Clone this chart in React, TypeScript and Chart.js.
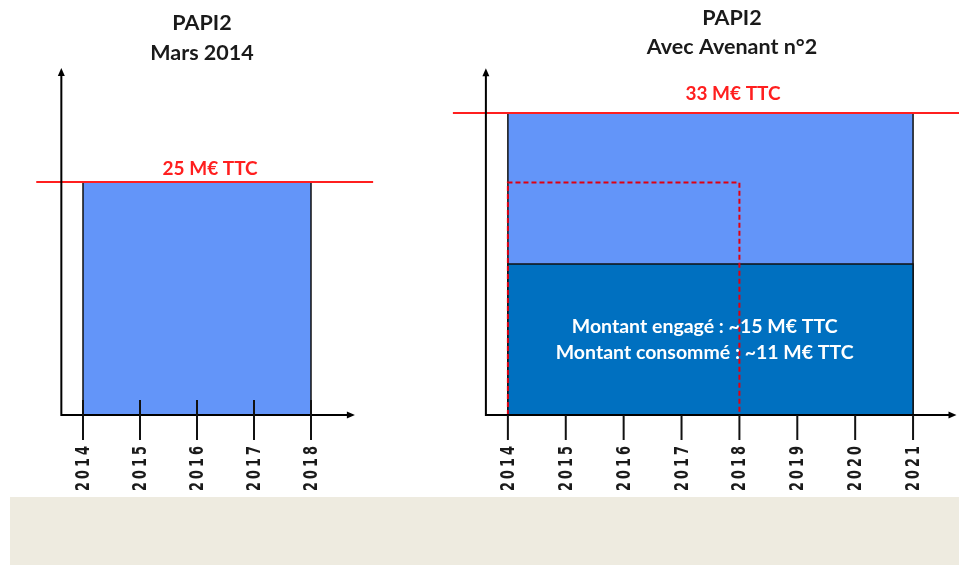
import React, { useEffect, useRef } from 'react';
import { Chart, registerables } from 'chart.js';

Chart.register(...registerables);

// ---------- data ----------
const LEFT_TITLE = ['PAPI2', 'Mars 2014'];
const RIGHT_TITLE = ['PAPI2', 'Avec Avenant n°2'];
const LEFT_YEARS = [2014, 2015, 2016, 2017, 2018];
const RIGHT_YEARS = [2014, 2015, 2016, 2017, 2018, 2019, 2020, 2021];
const LEFT_PERIOD = [2014, 2018];
const RIGHT_PERIOD = [2014, 2021];
const ORIGINAL_PERIOD = [2014, 2018];
const LEFT_BUDGET = 25;
const RIGHT_BUDGET = 33;
const ENGAGED_LEVEL = 16.5;
const ORIGINAL_OUTLINE_LEVEL = 25.4;
const LEFT_BUDGET_LABEL = '25 M€ TTC';
const RIGHT_BUDGET_LABEL = '33 M€ TTC';
const NOTE_LINES = ['Montant engagé : ~15 M€ TTC', 'Montant consommé : ~11 M€ TTC'];

// ---------- styles ----------
const LIGHT_BLUE = '#6395F9';
const DARK_BLUE = '#0070C0';
const RED = '#FF1F1F';
const BEIGE = '#EEEBE0';

const boxPoints = (x0: number, x1: number, h: number, closed = false) => {
  const pts = [
    { x: x0, y: 0 },
    { x: x0, y: h },
    { x: x1, y: h },
    { x: x1, y: 0 },
  ];
  if (closed) pts.push({ x: x0, y: 0 });
  return pts;
};

const hLine = (x0: number, x1: number, v: number) => [
  { x: x0, y: v },
  { x: x1, y: v },
];

type PanelCfg = {
  left: number;
  width: number;
  height: number;
  xMin: number;
  xMax: number;
  padding: { left: number; right: number; top: number; bottom: number };
  datasets: any[];
  decor: {
    title: string[];
    titleX: number;
    titleY: number[];
    years: number[];
    axisX: number;
    axisTop: number;
    axisRight: number;
    tickUp: number;
    budgetLabel: string;
    budgetValue: number;
    budgetX: number;
    budgetGap: number;
    notes?: string[];
    notesX?: number;
    notesY?: number[];
  };
};

const LEFT_CFG: PanelCfg = {
  left: 0,
  width: 440,
  height: 497,
  xMin: 2013,
  xMax: 2020,
  padding: { left: 26, right: 15, top: 42, bottom: 82 },
  datasets: [
    {
      data: hLine(2013.18, 2019.09, LEFT_BUDGET),
      borderColor: RED,
      borderWidth: 2,
      fill: false,
      clip: false,
      order: 1,
    },
    {
      data: boxPoints(LEFT_PERIOD[0], LEFT_PERIOD[1], LEFT_BUDGET),
      borderColor: '#111',
      borderWidth: 1.5,
      backgroundColor: LIGHT_BLUE,
      fill: 'origin',
      order: 5,
    },
  ],
  decor: {
    title: LEFT_TITLE,
    titleX: 202,
    titleY: [30, 60],
    years: LEFT_YEARS,
    axisX: 2013.62,
    axisTop: 37.2,
    axisRight: 2018.77,
    tickUp: 15,
    budgetLabel: LEFT_BUDGET_LABEL,
    budgetValue: LEFT_BUDGET,
    budgetX: 2016.23,
    budgetGap: 7,
  },
};

const RIGHT_CFG: PanelCfg = {
  left: 440,
  width: 519,
  height: 497,
  xMin: 2013,
  xMax: 2021.5,
  padding: { left: 10, right: 17, top: 49, bottom: 82 },
  datasets: [
    {
      data: hLine(2013.05, 2021.9, RIGHT_BUDGET),
      borderColor: RED,
      borderWidth: 2,
      fill: false,
      clip: false,
      order: 1,
    },
    {
      data: boxPoints(ORIGINAL_PERIOD[0], ORIGINAL_PERIOD[1], ORIGINAL_OUTLINE_LEVEL, true),
      borderColor: '#E00010',
      borderWidth: 2,
      borderDash: [5, 3],
      fill: false,
      order: 2,
    },
    {
      data: boxPoints(RIGHT_PERIOD[0], RIGHT_PERIOD[1], ENGAGED_LEVEL),
      borderColor: '#111',
      borderWidth: 1.5,
      backgroundColor: DARK_BLUE,
      fill: 'origin',
      order: 3,
    },
    {
      data: boxPoints(RIGHT_PERIOD[0], RIGHT_PERIOD[1], RIGHT_BUDGET),
      borderColor: '#111',
      borderWidth: 1.5,
      backgroundColor: LIGHT_BLUE,
      fill: 'origin',
      order: 4,
    },
  ],
  decor: {
    title: RIGHT_TITLE,
    titleX: 292,
    titleY: [25, 54],
    years: RIGHT_YEARS,
    axisX: 2013.62,
    axisTop: 37.9,
    axisRight: 2021.75,
    tickUp: 0,
    budgetLabel: RIGHT_BUDGET_LABEL,
    budgetValue: RIGHT_BUDGET,
    budgetX: 2017.89,
    budgetGap: 13,
    notes: NOTE_LINES,
    notesX: 2017.4,
    notesY: [333, 359],
  },
};

function makeDecor(d: PanelCfg['decor']) {
  return {
    id: 'panelDecor',
    afterDatasetsDraw(chart: any) {
      const { ctx } = chart;
      const xs = chart.scales.x;
      const ys = chart.scales.y;
      const X = (v: number) => xs.getPixelForValue(v);
      const Y = (v: number) => ys.getPixelForValue(v);
      ctx.save();

      // titles
      ctx.fillStyle = '#1a1a1a';
      ctx.font = 'bold 21.5px Lato, "Open Sans", sans-serif';
      ctx.textAlign = 'center';
      ctx.textBaseline = 'alphabetic';
      d.title.forEach((t, i) => ctx.fillText(t, d.titleX, d.titleY[i]));

      // budget label
      ctx.fillStyle = RED;
      ctx.font = 'bold 19px Lato, "Open Sans", sans-serif';
      ctx.fillText(d.budgetLabel, X(d.budgetX), Y(d.budgetValue) - d.budgetGap);

      // notes
      if (d.notes && d.notesY && d.notesX !== undefined) {
        ctx.fillStyle = '#ffffff';
        ctx.font = 'bold 19.5px Lato, "Open Sans", sans-serif';
        d.notes.forEach((t, i) => ctx.fillText(t, X(d.notesX as number), (d.notesY as number[])[i]));
      }

      // axes
      const ox = X(d.axisX);
      const oy = Y(0);
      const top = Y(d.axisTop);
      const right = X(d.axisRight);
      ctx.strokeStyle = '#000';
      ctx.fillStyle = '#000';
      ctx.lineWidth = 2;
      ctx.beginPath();
      ctx.moveTo(ox, oy);
      ctx.lineTo(ox, top + 6);
      ctx.moveTo(ox - 1, oy);
      ctx.lineTo(right - 6, oy);
      ctx.stroke();
      ctx.beginPath();
      ctx.moveTo(ox, top);
      ctx.lineTo(ox - 3.5, top + 8);
      ctx.lineTo(ox + 3.5, top + 8);
      ctx.closePath();
      ctx.fill();
      ctx.beginPath();
      ctx.moveTo(right, oy);
      ctx.lineTo(right - 8, oy - 3.5);
      ctx.lineTo(right - 8, oy + 3.5);
      ctx.closePath();
      ctx.fill();

      // ticks
      ctx.strokeStyle = '#111';
      ctx.lineWidth = 2;
      d.years.forEach((yr) => {
        const px = X(yr);
        ctx.beginPath();
        ctx.moveTo(px, oy - d.tickUp);
        ctx.lineTo(px, oy + 25);
        ctx.stroke();
      });

      // tick labels (rotated, condensed, letter-spaced)
      ctx.fillStyle = '#1a1a1a';
      ctx.font = 'bold 19px "DejaVu Sans", sans-serif';
      ctx.textAlign = 'left';
      ctx.textBaseline = 'alphabetic';
      const condense = 0.68;
      const spacing = 3;
      d.years.forEach((yr) => {
        const px = X(yr);
        const label = String(yr);
        ctx.save();
        ctx.translate(px + 6, oy + 76);
        ctx.rotate(-Math.PI / 2);
        ctx.scale(condense, 1);
        let off = 0;
        for (const ch of label) {
          ctx.fillText(ch, off, 0);
          off += ctx.measureText(ch).width + spacing / condense;
        }
        ctx.restore();
      });

      ctx.restore();
    },
  };
}

function Panel({ cfg }: { cfg: PanelCfg }) {
  const ref = useRef<HTMLCanvasElement>(null);
  useEffect(() => {
    if (!ref.current) return;
    const chart = new Chart(ref.current, {
      type: 'line',
      data: { datasets: cfg.datasets },
      options: {
        animation: false,
        responsive: false,
        devicePixelRatio: 1,
        layout: { padding: cfg.padding },
        scales: {
          x: { type: 'linear', min: cfg.xMin, max: cfg.xMax, display: false },
          y: { type: 'linear', min: 0, max: 40, display: false },
        },
        elements: { point: { radius: 0, hoverRadius: 0 }, line: { tension: 0 } },
        plugins: {
          legend: { display: false },
          tooltip: { enabled: false },
          title: { display: false },
        },
        events: [],
      } as any,
      plugins: [makeDecor(cfg.decor)],
    });
    return () => chart.destroy();
  }, [cfg]);
  return (
    <canvas
      ref={ref}
      width={cfg.width}
      height={cfg.height}
      style={{ position: 'absolute', left: cfg.left, top: 0, width: cfg.width, height: cfg.height }}
    />
  );
}

export default function App() {
  return (
    <div style={{ position: 'absolute', left: 0, top: 0, width: 959, height: 565, background: '#fff', overflow: 'hidden' }}>
      <div style={{ position: 'absolute', left: 10, top: 497, width: 949, height: 68, background: BEIGE }} />
      <Panel cfg={LEFT_CFG} />
      <Panel cfg={RIGHT_CFG} />
    </div>
  );
}
